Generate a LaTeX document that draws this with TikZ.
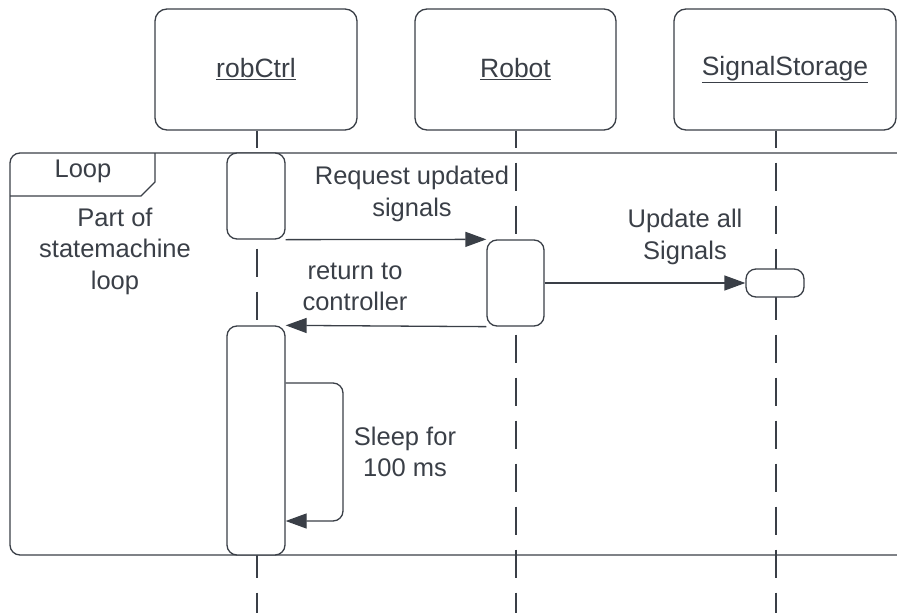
\documentclass[tikz,border=0pt]{standalone}
\usepackage{fontspec}
\setmainfont{Liberation Sans}
\usetikzlibrary{arrows.meta,calc}
\definecolor{ink}{RGB}{58,63,71}
\begin{document}
\begin{tikzpicture}[x=1pt,y=-1pt,
  every node/.style={text=ink,font=\fontsize{25.5}{31.5}\selectfont,align=center},
  headbox/.style={draw=ink,line width=1.3pt,rounded corners=12pt,fill=white,inner sep=0pt,font=\fontsize{26.5}{32}\selectfont},
  actbox/.style={draw=ink,line width=1.3pt,rounded corners=10pt,fill=white,inner sep=0pt},
  lifeline/.style={draw=ink,line width=1.3pt,dash pattern=on 28pt off 15pt,dash phase=11pt},
  msg/.style={draw=ink,line width=1.3pt,-{Triangle[length=21pt,width=15pt]}},
  lbl/.style={inner sep=0pt}]
\useasboundingbox (0,0) rectangle (897,613);
% heads
\node[headbox,minimum width=202pt,minimum height=121pt] (hc) at (256,69.5) {\underline{robCtrl}};
\node[headbox,minimum width=201pt,minimum height=121pt] (hr) at (515.5,69.5) {\underline{Robot}};
\node[headbox,minimum width=222pt,minimum height=121pt] (hs) at (785,69.5) {\underline{SignalStorage}};
% lifelines
\coordinate (ec) at (257,613);
\coordinate (er) at (516,613);
\coordinate (es) at (776,613);
\draw[lifeline] (hc.south -| ec) -- (ec);
\draw[lifeline] (hr.south -| er) -- (er);
\draw[lifeline] (hs.south -| es) -- (es);
% loop frame
\draw[ink,line width=1.3pt,rounded corners=10pt] (905,153) -- (10,153) -- (10,555) -- (905,555);
\draw[ink,line width=1.3pt] (10,196) -- (141,196) -- (155,182) -- (155,153);
\node[lbl] (looplbl) at (83,171) {Loop};
\node[lbl] (part) at (115,251) {Part of\\statemachine\\loop};
% activations
\node[actbox,minimum width=58pt,minimum height=86pt] (a1) at (256,196) {};
\node[actbox,minimum width=57pt,minimum height=86pt] (ra) at (515.5,283) {};
\node[actbox,minimum width=58pt,minimum height=28pt] (sa) at (775,283) {};
\node[actbox,minimum width=58pt,minimum height=229pt] (a2) at (256,440.5) {};
% messages
\draw[msg] (a1.south east) -- (ra.north west);
\draw[msg] (ra.east) -- (sa.west);
\draw[msg] (ra.south west) -- (a2.north east);
\coordinate (s1) at (343,383);
\coordinate (s2) at (343,521);
\draw[msg,rounded corners=10pt] (a2.east |- s1) -- (s1) -- (s2) -- (a2.east |- s2);
% labels
\node[lbl] (lreq) at (412,194) {Request updated\\signals};
\node[lbl] (lupd) at (685,237) {Update all\\Signals};
\node[lbl] (lret) at (355,287) {return to\\controller};
\node[lbl] (lslp) at (405,452) {Sleep for\\100 ms};
\end{tikzpicture}
\end{document}
